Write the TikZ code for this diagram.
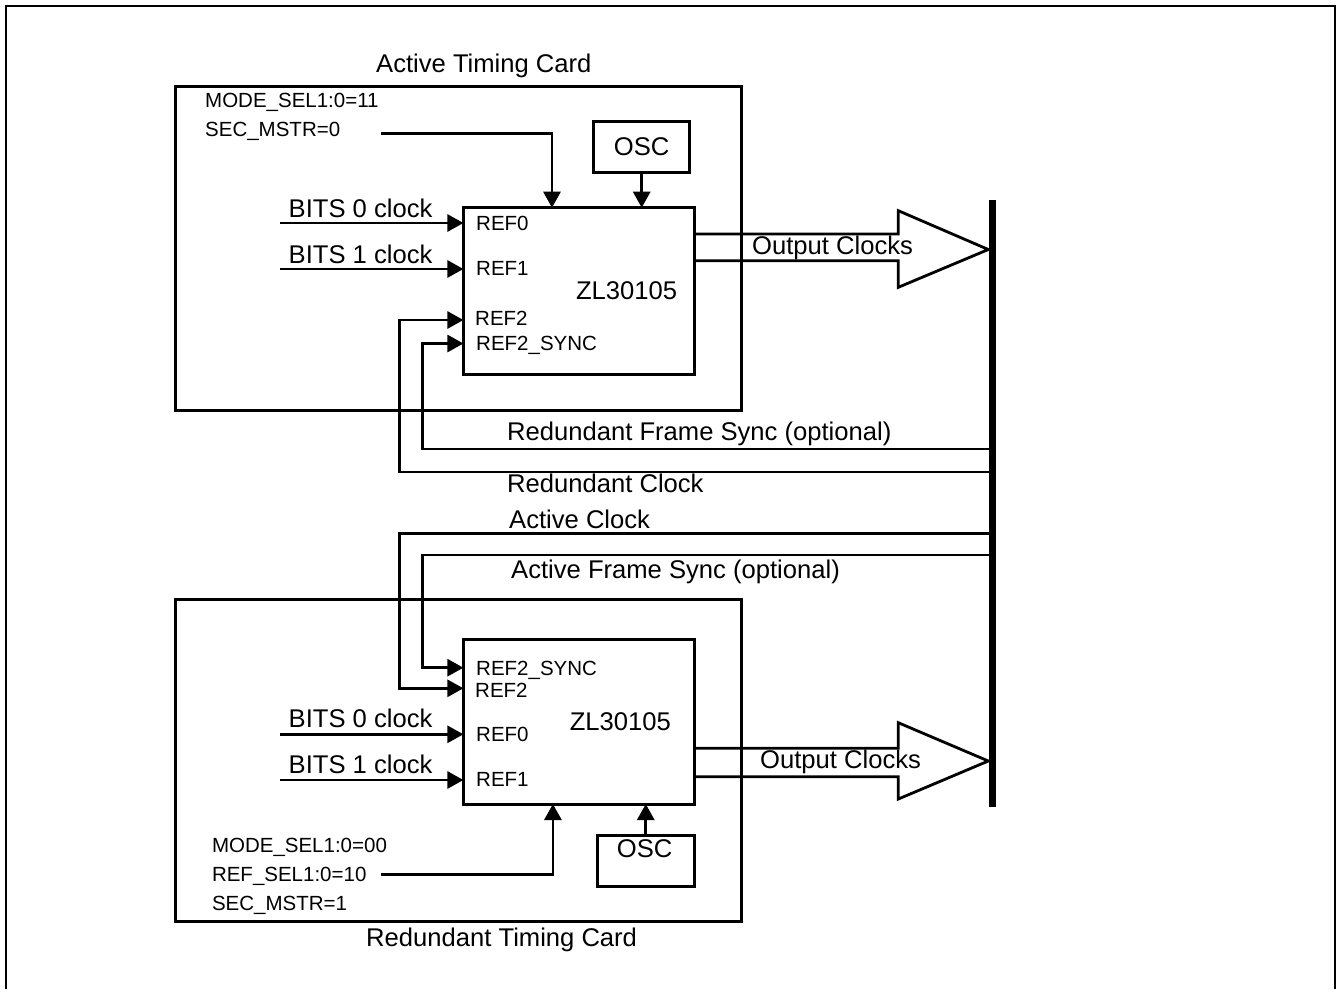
\documentclass[tikz,border=0pt]{standalone}
\usepackage{fontspec}
\setmainfont{Liberation Sans}
\usetikzlibrary{arrows.meta,calc}
\tikzset{
  wire/.style={line width=2.8pt},
  arr/.style={wire,-{Triangle[length=16pt,width=17pt]}},
  big/.style={font=\fontsize{25.6}{30}\selectfont,inner sep=0pt,anchor=base west},
  small/.style={font=\fontsize{20.5}{24}\selectfont,inner sep=0pt,anchor=base west},
  box/.style={draw,line width=3pt,inner sep=0pt,outer sep=0pt,anchor=north west},
}
\begin{document}
\begin{tikzpicture}[x=1pt,y=-1pt]
\useasboundingbox (0,0) rectangle (1337,989);
% outer frame
\draw[line width=2pt] (6,989) -- (6,6) -- (1335,6) -- (1335,989);

% ===== Active card =====
\node[box,minimum width=565.5pt,minimum height=323.5pt] (cardA) at (175.5,86.5) {};
\node[big] (tA) at (376,72) {Active Timing Card};
\node[small] (msA) at (205,107.3) {MODE\_SEL1:0=11};
\node[small] (smA) at (205,136.3) {SEC\_MSTR=0};
\node[box,minimum width=230.8pt,minimum height=166.6pt] (chipA) at (463.4,207.7) {};
\node[box,minimum width=96.2pt,minimum height=51.7pt] (oscA) at (593.6,121) {};
\node[big,anchor=base] (oscAt) at (641.7,155.2) {OSC};
\node[big] (zlA) at (575.8,299.3) {ZL30105};
\node[small] (r0A) at (476,230.3) {REF0};
\node[small] (r1A) at (476,275) {REF1};
\node[small] (r2A) at (475,325) {REF2};
\node[small] (r2sA) at (476,350.7) {REF2\_SYNC};
\node[big] (b0At) at (288.5,217) {BITS 0 clock};
\node[big] (b1At) at (288.5,263) {BITS 1 clock};
\coordinate (smAs) at (381,133.7);
\coordinate (b0A) at (280,223);
\coordinate (b1A) at (280,269);
\draw[arr] (smAs) -| ($(chipA.north west)+(88.6,0)$);
\draw[arr] (oscA.south) -- (oscA.south |- chipA.north);
\draw[arr] (b0A) -- (b0A -| chipA.west);
\draw[arr] (b1A) -- (b1A -| chipA.west);
% output clocks A
\draw[wire] ($(chipA.north east)+(0,26.3)$) -- (898.3,234) -- (898.3,210.7) -- (988.3,249.5)
  -- (898.3,287.3) -- (898.3,260.7) -- ($(chipA.north east)+(0,53)$);
\node[big] (ocA) at (752,254) {Output Clocks};

% ===== Redundant card =====
\node[box,minimum width=565.5pt,minimum height=321.7pt] (cardB) at (175.5,599.3) {};
\node[big] (tB) at (366,946) {Redundant Timing Card};
\node[box,minimum width=230.8pt,minimum height=164.7pt] (chipB) at (463.4,639.3) {};
\node[box,minimum width=96.9pt,minimum height=50.3pt] (oscB) at (597.3,835.7) {};
\node[big,anchor=base] (oscBt) at (644.7,857.3) {OSC};
\node[big] (zlB) at (569.6,730) {ZL30105};
\node[small] (r2sB) at (476,675) {REF2\_SYNC};
\node[small] (r2B) at (475,697.7) {REF2};
\node[small] (r0B) at (476,741.7) {REF0};
\node[small] (r1B) at (476,786) {REF1};
\node[big] (b0Bt) at (288.5,727.3) {BITS 0 clock};
\node[big] (b1Bt) at (288.5,773.3) {BITS 1 clock};
\node[small] (msB) at (211.8,852.7) {MODE\_SEL1:0=00};
\node[small] (rsB) at (211.8,881.7) {REF\_SEL1:0=10};
\node[small] (smB) at (211.8,910) {SEC\_MSTR=1};
\coordinate (rsBs) at (380.9,874.3);
\coordinate (b0B) at (280,734.3);
\coordinate (b1B) at (280,780);
\draw[arr] (b0B) -- (b0B -| chipB.west);
\draw[arr] (b1B) -- (b1B -| chipB.west);
\draw[arr] (rsBs) -| ($(chipB.south west)+(89.5,0)$);
\draw[arr] (oscB.north) -- (oscB.north |- chipB.south);
% output clocks B
\draw[wire] ($(chipB.north east)+(0,109)$) -- (898.3,748.3) -- (898.3,722.7) -- (988.3,761)
  -- (898.3,799) -- (898.3,776.7) -- ($(chipB.north east)+(0,137.4)$);
\node[big] (ocB) at (760,768.3) {Output Clocks};

% ===== bus lines =====
\coordinate (rfsEnd) at (992.7,449);
\coordinate (rcEnd) at (992.7,472);
\coordinate (acEnd) at (992.7,533.3);
\coordinate (afsEnd) at (992.7,555);
\coordinate (kA2) at (399.4,320);
\coordinate (kA2s) at (422.7,343.5);
\coordinate (kB2) at (399.4,688.3);
\coordinate (kB2s) at (422.7,667.7);
\draw[arr] (rcEnd) -| (kA2) -- (kA2 -| chipA.west);
\draw[arr] (rfsEnd) -| (kA2s) -- (kA2s -| chipA.west);
\draw[arr] (acEnd) -| (kB2) -- (kB2 -| chipB.west);
\draw[arr] (afsEnd) -| (kB2s) -- (kB2s -| chipB.west);
\node[big] (rfsT) at (507,440) {Redundant Frame Sync (optional)};
\node[big] (rcT) at (507,492) {Redundant Clock};
\node[big] (acT) at (509,528) {Active Clock};
\node[big] (afsT) at (511,578.3) {Active Frame Sync (optional)};

% bus
\coordinate (busT) at (992.7,200);
\coordinate (busB) at (992.7,806.7);
\draw[line width=6.7pt] (busT) -- (busB);
\end{tikzpicture}
\end{document}
